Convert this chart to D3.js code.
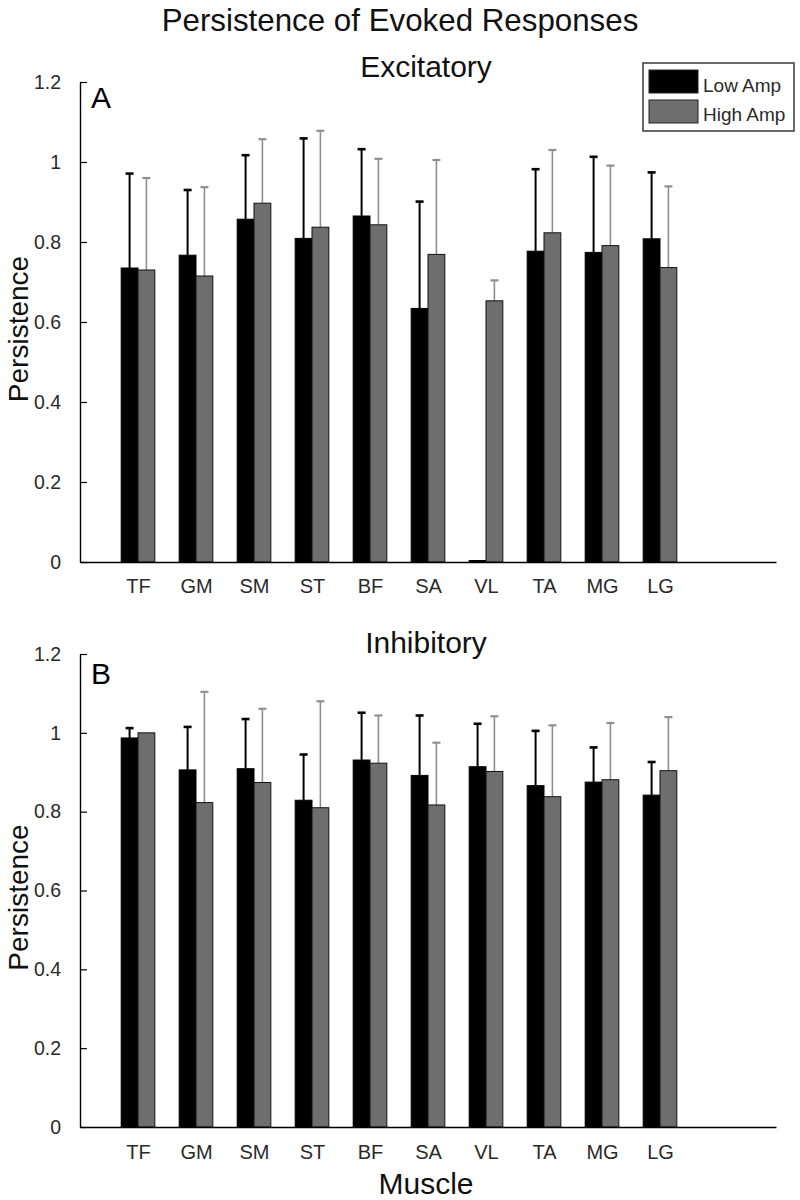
<!DOCTYPE html>
<html>
<head>
<meta charset="utf-8">
<script src="https://cdn.jsdelivr.net/npm/d3@7"></script>
<style>
  html, body { margin: 0; padding: 0; background: #fff; }
  svg text { font-family: "Liberation Sans", Arial, sans-serif; }
</style>
</head>
<body>
<svg id="chart" width="800" height="1200"></svg>
<script>
// ---------- data ----------
const muscles = ["TF", "GM", "SM", "ST", "BF", "SA", "VL", "TA", "MG", "LG"];
const seriesNames = ["Low Amp", "High Amp"];

// Panel A: Excitatory
const excLow     = [0.735, 0.767, 0.857, 0.809, 0.865, 0.634, 0.000, 0.777, 0.774, 0.808];
const excLowErr  = [0.236, 0.163, 0.160, 0.250, 0.167, 0.267, null,  0.205, 0.239, 0.166];
const excHigh    = [0.730, 0.715, 0.897, 0.837, 0.843, 0.769, 0.653, 0.823, 0.791, 0.736];
const excHighErr = [0.230, 0.222, 0.160, 0.241, 0.165, 0.236, 0.051, 0.207, 0.200, 0.203];

// Panel B: Inhibitory
const inhLow     = [0.987, 0.906, 0.909, 0.829, 0.931, 0.892, 0.914, 0.866, 0.875, 0.842];
const inhLowErr  = [0.025, 0.109, 0.126, 0.116, 0.120, 0.152, 0.109, 0.139, 0.088, 0.084];
const inhHigh    = [1.000, 0.823, 0.874, 0.810, 0.923, 0.817, 0.902, 0.838, 0.881, 0.904];
const inhHighErr = [null,  0.281, 0.187, 0.270, 0.121, 0.158, 0.140, 0.181, 0.144, 0.136];

const yTicks      = [0, 0.2, 0.4, 0.6, 0.8, 1.0, 1.2];
const yTickLabels = ["0", "0.2", "0.4", "0.6", "0.8", "1", "1.2"];

// ---------- styling ----------
const C_LOW = "#000000";
const C_HIGH = "#6e6e6e";
const C_LOW_ERR = "#000000";
const C_HIGH_ERR = "#8f8f8f";
const TXT = "#2a2a2a";

const svg = d3.select("#chart");

svg.append("text")
  .attr("x", 400).attr("y", 31)
  .attr("text-anchor", "middle")
  .attr("font-size", 31.3)
  .attr("fill", "#111")
  .text("Persistence of Evoked Responses");

function drawPanel(opts) {
  const { top, bottom, low, lowErr, high, highErr, subtitle, subY, letter, letterY, tickLabelY, showXLabel, legend } = opts;
  const x = d3.scaleLinear().domain([0, 12]).range([80, 776]);
  const y = d3.scaleLinear().domain([0, 1.2]).range([bottom, top]);
  const g = svg.append("g");
  const bw = 0.29; // bar width in category units

  const rows = muscles.map((m, i) => ({ m, i, low: low[i], lowErr: lowErr[i], high: high[i], highErr: highErr[i] }));

  // error bars (upper only visible) drawn first
  const errs = [];
  rows.forEach(r => {
    if (r.lowErr != null) errs.push({ cx: r.i + 1 - bw / 2, v: r.low, e: r.lowErr, col: C_LOW_ERR, w: 2, cw: 2.6 });
    if (r.highErr != null) errs.push({ cx: r.i + 1 + bw / 2, v: r.high, e: r.highErr, col: C_HIGH_ERR, w: 1.6, cw: 2.2 });
  });
  g.selectAll(".errv").data(errs).join("line")
    .attr("x1", d => x(d.cx)).attr("x2", d => x(d.cx))
    .attr("y1", d => y(d.v)).attr("y2", d => y(d.v + d.e))
    .attr("stroke", d => d.col).attr("stroke-width", d => d.w);
  g.selectAll(".errc").data(errs).join("line")
    .attr("x1", d => x(d.cx) - 4).attr("x2", d => x(d.cx) + 4)
    .attr("y1", d => y(d.v + d.e)).attr("y2", d => y(d.v + d.e))
    .attr("stroke", d => d.col).attr("stroke-width", d => d.cw);

  // bars
  g.selectAll(".barLow").data(rows).join("rect")
    .attr("x", d => x(d.i + 1 - bw)).attr("width", d => x(bw) - x(0))
    .attr("y", d => y(d.low) - (d.low === 0 ? 1.5 : 0)).attr("height", d => Math.max(y(0) - y(d.low), 1.5))
    .attr("fill", C_LOW).attr("stroke", "#000").attr("stroke-width", 1);
  g.selectAll(".barHigh").data(rows).join("rect")
    .attr("x", d => x(d.i + 1)).attr("width", d => x(bw) - x(0))
    .attr("y", d => y(d.high)).attr("height", d => y(0) - y(d.high))
    .attr("fill", C_HIGH).attr("stroke", "#111").attr("stroke-width", 1);

  // y axis
  const yAxis = d3.axisLeft(y).tickValues(yTicks).tickFormat((d, i) => yTickLabels[i]).tickSizeInner(-7).tickSizeOuter(0).tickPadding(19);
  const ya = g.append("g").attr("transform", `translate(${x(0)},0)`).call(yAxis);
  ya.select(".domain").attr("stroke", "#000").attr("stroke-width", 1.4);
  ya.selectAll(".tick line").attr("stroke", "#000").attr("stroke-width", 1.2);
  ya.selectAll(".tick text").attr("font-size", 19.5).attr("fill", TXT).attr("font-family", "Liberation Sans, Arial, sans-serif");

  // x axis
  const xAxis = d3.axisBottom(x).tickValues(d3.range(1, muscles.length + 1)).tickFormat(d => muscles[d - 1]).tickSize(0).tickPadding(0);
  const xa = g.append("g").attr("transform", `translate(0,${y(0)})`).call(xAxis);
  xa.select(".domain").attr("stroke", "#000").attr("stroke-width", 1.4);
  xa.selectAll(".tick text").attr("font-size", 20).attr("fill", TXT)
    .attr("font-family", "Liberation Sans, Arial, sans-serif")
    .attr("dy", null).attr("y", tickLabelY - y(0));

  // subtitle
  g.append("text").attr("x", 426).attr("y", subY).attr("text-anchor", "middle")
    .attr("font-size", 30).attr("fill", "#111").text(subtitle);
  // panel letter
  g.append("text").attr("x", 91).attr("y", letterY)
    .attr("font-size", 30).attr("fill", "#000").text(letter);
  // y label
  g.append("text").attr("transform", `translate(28,${(top + bottom) / 2 + 7}) rotate(-90)`)
    .attr("text-anchor", "middle").attr("font-size", 28).attr("fill", "#111").text("Persistence");

  if (showXLabel) {
    g.append("text").attr("x", 426).attr("y", 1194).attr("text-anchor", "middle")
      .attr("font-size", 30).attr("fill", "#111").text("Muscle");
  }

  if (legend) {
    const lg = g.append("g");
    lg.append("rect").attr("x", 643).attr("y", 63).attr("width", 151).attr("height", 68)
      .attr("fill", "#fff").attr("stroke", "#444").attr("stroke-width", 1.6);
    const items = [{ name: seriesNames[0], col: C_LOW }, { name: seriesNames[1], col: C_HIGH }];
    lg.selectAll(".sw").data(items).join("rect")
      .attr("x", 649).attr("y", (d, i) => 70 + i * 30).attr("width", 49).attr("height", 23)
      .attr("fill", d => d.col).attr("stroke", "#222").attr("stroke-width", 1);
    lg.selectAll(".lt").data(items).join("text")
      .attr("x", 703).attr("y", (d, i) => 92 + i * 29)
      .attr("font-size", 19).attr("fill", TXT).text(d => d.name);
  }
}

drawPanel({ top: 82, bottom: 562, low: excLow, lowErr: excLowErr, high: excHigh, highErr: excHighErr,
  subtitle: "Excitatory", subY: 77, letter: "A", letterY: 108, tickLabelY: 593, showXLabel: false, legend: true });
drawPanel({ top: 654, bottom: 1127, low: inhLow, lowErr: inhLowErr, high: inhHigh, highErr: inhHighErr,
  subtitle: "Inhibitory", subY: 653, letter: "B", letterY: 684, tickLabelY: 1159, showXLabel: true, legend: false });
</script>
</body>
</html>
